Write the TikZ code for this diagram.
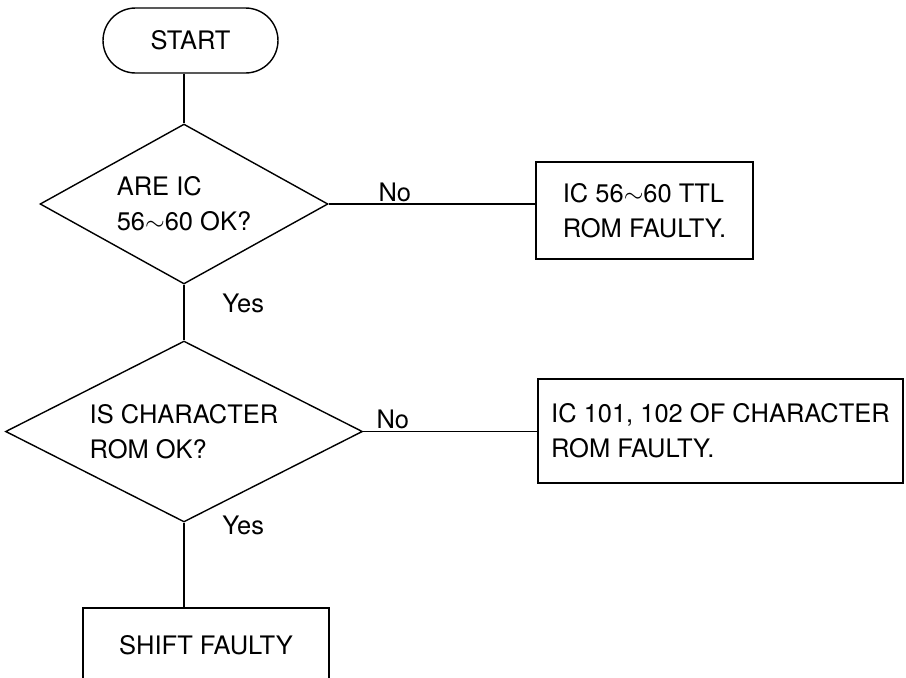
\documentclass[tikz,border=0pt]{standalone}
\usepackage{fontspec}
\setmainfont{TeX Gyre Heros}
\usetikzlibrary{shapes.geometric,shapes.misc}

\tikzset{
  terminal/.style={
    shape = rounded rectangle,
    draw,
    line width = 0.8pt,
    minimum width = 3.5cm,
    minimum height = 1.3cm,
    inner sep = 0pt
  },
  decision/.style={
    shape = diamond,
    draw,
    line width = 0.8pt,
    inner sep = 0pt,
    aspect = 1.9,
    align = left
  },
  result/.style={
    shape = rectangle,
    draw,
    line width = 0.8pt,
    inner sep = 0pt,
    align = left
  },
  answer/.style={
    inner sep = 1pt
  },
  flow/.style={
    line width = 0.8pt
  }
}

\begin{document}
\begin{tikzpicture}[x=0.02cm, y=-0.02cm, font=\fontsize{14.5}{20}\selectfont]
        \clip (0,0) rectangle (906,677);

        \node[terminal] (start) at (190.5,40.5) {START};
        \node[decision, aspect=1.8, minimum width=5.76cm, minimum height=3.2cm] (icok) at (184,204) {ARE IC\\56$\sim$60 OK?};
        \node[result, minimum width=4.34cm, minimum height=1.94cm] (ttlrom) at (644.5,210.5) {IC 56$\sim$60 TTL\\ROM FAULTY.};
        \node[decision, aspect=1.97, minimum width=7.14cm, minimum height=3.62cm] (charok) at (184,431.5) {IS CHARACTER\\ROM OK?};
        \node[result, minimum width=7.3cm, minimum height=2.08cm] (charrom) at (720.5,431) {IC 101, 102 OF CHARACTER\\ROM FAULTY.};
        \node[result, minimum width=4.92cm, minimum height=1.48cm] (shift) at (206,645) {SHIFT FAULTY};

        % connectors
        \draw[flow] (start.south -| icok.north) -- (icok.north);
        \draw[flow] (icok.east) -- (icok.east -| ttlrom.west) node[answer, pos=0.32, above] {No};
        \draw[flow] (icok.south) -- (charok.north) node[answer, pos=0.33, anchor=west, xshift=0.72cm] {Yes};
        \draw[flow] (charok.east) -- (charok.east -| charrom.west) node[answer, pos=0.17, above] {No};
        \draw[flow] (charok.south) -- (charok.south |- shift.north) node[answer, pos=0.03, anchor=west, xshift=0.72cm] {Yes};
\end{tikzpicture}
\end{document}
